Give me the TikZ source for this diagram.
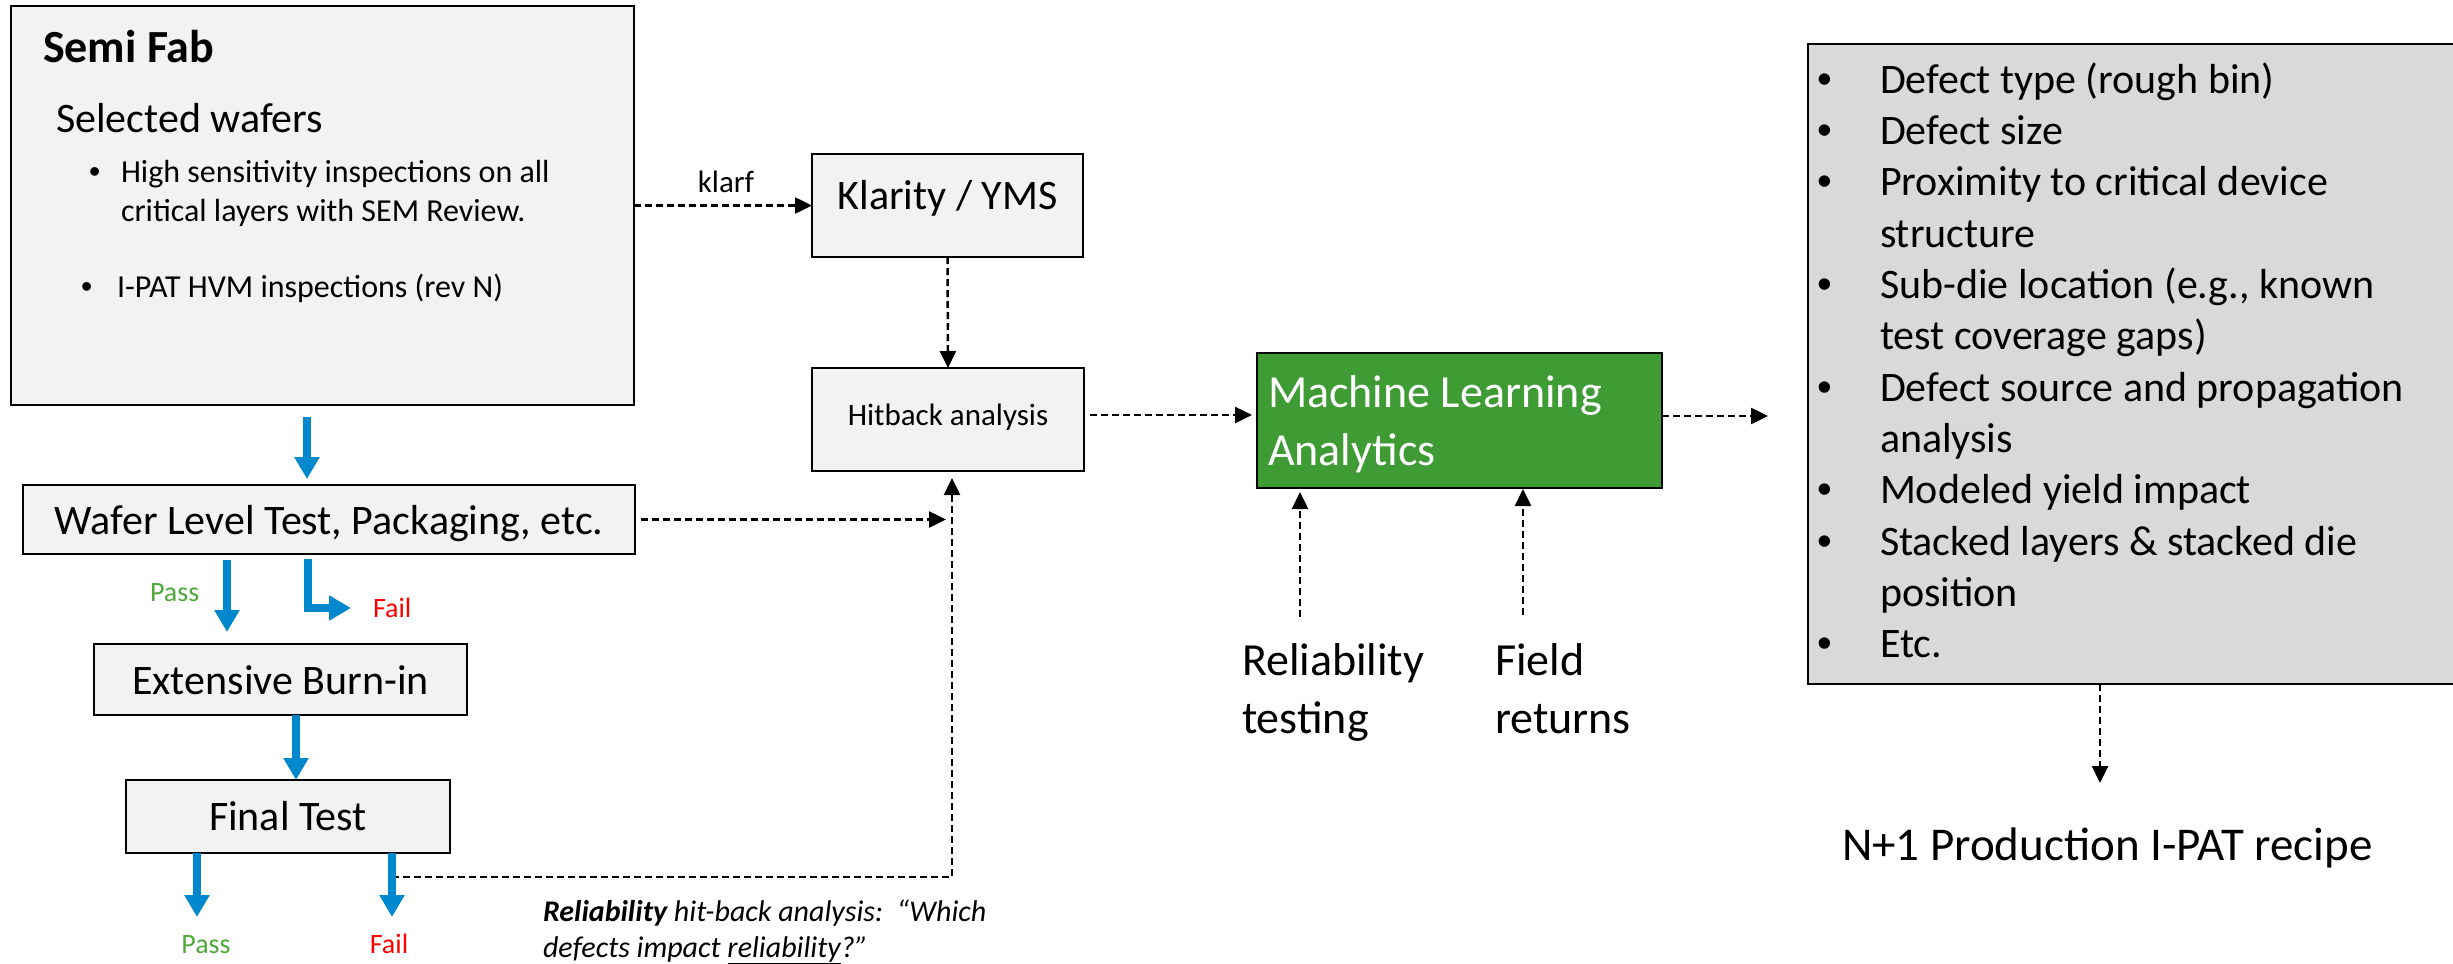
\documentclass[tikz,border=0pt]{standalone}
\usepackage{fontspec}
\setmainfont{Carlito}
\newfontfamily\bulletfont{Liberation Sans}
\usetikzlibrary{arrows.meta,calc}
\definecolor{boxgray}{HTML}{F2F2F2}
\definecolor{listgray}{HTML}{D9D9D9}
\definecolor{mlgreen}{HTML}{3F9C35}
\definecolor{passgreen}{HTML}{4EA93B}
\definecolor{failred}{HTML}{FF0000}
\definecolor{flowblue}{HTML}{0088CC}
\newcommand\fsz[2]{\fontsize{#1}{#2}\selectfont}
\newcommand\bul{{\bulletfont •}}
\begin{document}
\begin{tikzpicture}[x=1pt,y=-1pt,
  box/.style={draw=black, line width=2pt, fill=boxgray, inner sep=0pt, outer sep=0pt},
  txt/.style={inner sep=0pt, outer sep=0pt},
  flow/.style={draw=flowblue, line width=8pt, -{Triangle[length=22pt,width=24pt]}},
  dashedarrow/.style={draw=black, line width=2.5pt, dash pattern=on 7pt off 4pt, -{Triangle[length=17pt,width=16pt]}},
]
\useasboundingbox (0,0) rectangle (2453,964);

% boxes
\node[box, minimum width=623pt, minimum height=399pt] (sf) at (322.5,205.5) {};
\node[box, minimum width=612pt, minimum height=69pt, font=\fsz{42}{50}, text height=29pt, text depth=0pt] (wafer) at (329,519.5) {Wafer Level Test, Packaging, etc.};
\node[box, minimum width=373pt, minimum height=71pt, font=\fsz{42}{50}, text height=29pt, text depth=0pt] (burnin) at (280.5,679.5) {Extensive Burn-in};
\node[box, minimum width=324pt, minimum height=73pt, font=\fsz{42}{50}, text height=27pt, text depth=0pt] (final) at (288,816.5) {Final Test};
\node[box, minimum width=271pt, minimum height=103pt, font=\fsz{42}{50}, text height=7pt, text depth=0pt] (klarity) at (947.5,205.5) {Klarity / YMS};
\node[box, minimum width=272pt, minimum height=103pt, font=\fsz{31}{37}, text height=11pt, text depth=0pt] (hitback) at (948,419.5) {Hitback analysis};
\node[box, fill=mlgreen, minimum width=405pt, minimum height=135pt] (ml) at (1459.5,420.5) {};
\node[box, fill=listgray, minimum width=662pt, minimum height=640pt] (graybox) at (2139,364) {};

% texts in Semi Fab box
\node[txt, anchor=base west, font=\fsz{46}{55}\bfseries] (sftitle) at (43,62) {Semi Fab};
\node[txt, anchor=base west, font=\fsz{42}{50}] (selw) at (56,132) {Selected wafers};
\node[txt, anchor=base west, font=\fsz{32}{39}] (bulA) at (89,182) {\begin{tabular}[t]{@{}l@{}}\makebox[32pt][l]{\bul}High sensitivity inspections on all\\\hspace*{32pt}critical layers with SEM Review.\end{tabular}};
\node[txt, anchor=base west, font=\fsz{32}{39}] (bulB) at (81,297) {\makebox[36pt][l]{\bul}I-PAT HVM inspections (rev N)};

% ML text
\node[txt, anchor=base west, font=\fsz{46}{58}, text=white] (mltext) at (1268,407) {\begin{tabular}[t]{@{}l@{}}Machine Learning\\Analytics\end{tabular}};

% list
\node[txt, anchor=base west, font=\fsz{42}{51.36}] (list) at (1817,93) {\begin{tabular}[t]{@{}l@{}}
\makebox[63pt][l]{\bul}Defect type (rough bin)\\
\makebox[63pt][l]{\bul}Defect size\\
\makebox[63pt][l]{\bul}Proximity to critical device\\
\hspace*{63pt}structure\\
\makebox[63pt][l]{\bul}Sub-die location (e.g., known\\
\hspace*{63pt}test coverage gaps)\\
\makebox[63pt][l]{\bul}Defect source and propagation\\
\hspace*{63pt}analysis\\
\makebox[63pt][l]{\bul}Modeled yield impact\\
\makebox[63pt][l]{\bul}Stacked layers \& stacked die\\
\hspace*{63pt}position\\
\makebox[63pt][l]{\bul}Etc.
\end{tabular}};

% other texts
\node[txt, anchor=base, font=\fsz{31}{37}] (klarf) at (726,192) {klarf};
\node[txt, anchor=base west, font=\fsz{46}{58}] (reltest) at (1242,675) {\begin{tabular}[t]{@{}l@{}}Reliability\\testing\end{tabular}};
\node[txt, anchor=base west, font=\fsz{46}{58}] (field) at (1495,675) {\begin{tabular}[t]{@{}l@{}}Field\\returns\end{tabular}};
\node[txt, anchor=base west, font=\fsz{47}{56}] (recipe) at (1842,860) {N+1 Production I-PAT recipe};
\node[txt, anchor=base west, font=\fsz{30}{36}\itshape] (hbnote) at (543,921) {\begin{tabular}[t]{@{}l@{}}\textbf{Reliability} hit-back analysis:\ \ “Which\\defects impact \underline{reliability}?”\end{tabular}};
\node[txt, anchor=base west, font=\fsz{28}{34}, text=passgreen] (passA) at (150,601) {Pass};
\node[txt, anchor=base west, font=\fsz{28}{34}, text=failred] (failA) at (373,617) {Fail};
\node[txt, anchor=base, font=\fsz{28}{34}, text=passgreen] (passB) at (206,953) {Pass};
\node[txt, anchor=base, font=\fsz{28}{34}, text=failred] (failB) at (389,953) {Fail};

% helper coordinates
\coordinate (xA) at (307,0);
\coordinate (xP) at (227,0);
\coordinate (xF) at (308,0);
\coordinate (failtip) at (351,608);
\coordinate (xB) at (296,0);
\coordinate (xFP) at (197,0);
\coordinate (xFF) at (392,0);
\coordinate (yend) at (0,917);
\coordinate (xV) at (952,0);
\coordinate (fbend) at (952,877);
\coordinate (yHM) at (0,415);
\coordinate (yML) at (0,416);
\coordinate (rstart) at (1300,617);
\coordinate (fstart) at (1523,615);
\coordinate (xG) at (2100,0);
\coordinate (gtip) at (2100,783);

% dashed connectors
\draw[dashedarrow] (sf.east |- klarity.west) -- (klarity.west);
\draw[dashedarrow] (klarity.south) -- (hitback.north);
\draw[dashedarrow, shorten <=6pt, shorten >=5pt] (hitback.east |- yHM) -- (ml.west |- yHM);
\draw[dashedarrow, shorten <=6pt, shorten >=6pt] (wafer.east) -- (wafer.east -| xV);
\draw[dashedarrow, shorten >=7pt] (xFF |- fbend) -- (fbend) -- (hitback.south -| fbend);
\draw[dashedarrow, shorten >=40pt] (ml.east |- yML) -- (graybox.west |- yML);
\draw[dashedarrow, shorten >=4pt] (rstart) -- (ml.south -| rstart);
\draw[dashedarrow, shorten >=1pt] (fstart) -- (ml.south -| fstart);
\draw[dashedarrow] (graybox.south -| xG) -- (gtip);

% blue flow arrows
\draw[flow, shorten <=12pt, shorten >=6pt] (sf.south -| xA) -- (wafer.north -| xA);
\draw[flow, shorten <=6pt, shorten >=12pt] (wafer.south -| xP) -- (burnin.north -| xP);
\draw[flow, shorten <=5pt] (wafer.south -| xF) |- (failtip);
\draw[flow] (burnin.south -| xB) -- (final.north -| xB);
\draw[flow] (final.south -| xFP) -- (xFP |- yend);
\draw[flow] (final.south -| xFF) -- (xFF |- yend);
\end{tikzpicture}
\end{document}
